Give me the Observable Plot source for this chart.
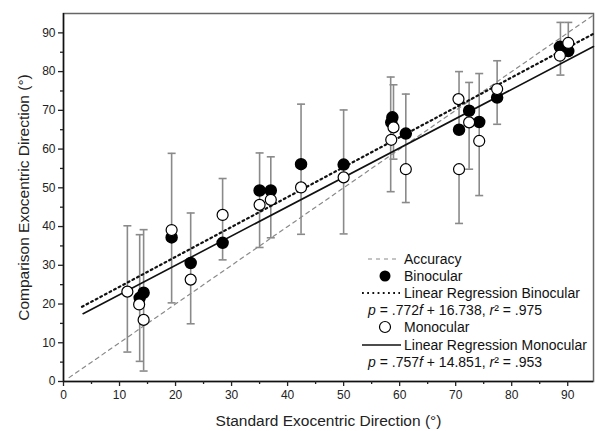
<!DOCTYPE html>
<html><head><meta charset="utf-8">
<script src="https://cdn.jsdelivr.net/npm/d3@7"></script>
<script src="https://cdn.jsdelivr.net/npm/@observablehq/plot@0.6"></script>
<style>
body{margin:0;background:#fff;font-family:"Liberation Sans",Arial,sans-serif;}
#wrap{width:595px;height:431px;}
</style></head><body><div id="wrap"></div>
<script>
// ---- data ----
const xTickValues = [0,10,20,30,40,50,60,70,80,90];
const yTickValues = [0,10,20,30,40,50,60,70,80,90];
const xMinorTicks = [5,15,25,35,45,55,65,75,85];
const yMinorTicks = [5,15,25,35,45,55,65,75,85];

const binocularX = [13.6,14.3,19.3,22.7,28.4,35.0,37.0,42.4,50.0,58.7,58.5,61.1,70.6,72.4,74.2,77.4,88.6,90.1];
const binocularY = [21.6,22.9,37.2,30.6,35.8,49.3,49.3,56.1,56.0,68.2,66.9,64.0,65.0,69.9,67.0,73.3,86.4,85.3];

const monocularX = [11.4,13.5,14.3,19.3,22.7,28.4,35.0,37.0,42.4,50.0,58.9,58.5,61.1,70.5,70.6,72.4,74.2,77.4,88.6,90.1];
const monocularY = [23.2,19.9,15.9,39.1,26.3,43.0,45.6,46.9,50.1,52.7,65.6,62.4,54.8,72.9,54.8,66.9,62.1,75.5,84.1,87.4];

const errorX  = [11.4,13.6,14.3,19.3,22.7,28.4,35.0,37.0,42.4,50.0,58.4,58.9,61.1,70.6,70.6,72.4,74.2,77.4,88.7,90.1];
const errorLo = [7.6,5.2,2.7,20.3,14.9,31.4,34.6,37.1,38.0,38.1,49.0,57.4,46.2,65.8,40.8,54.8,48.0,66.4,79.1,85.0];
const errorHi = [40.2,37.9,39.2,58.9,43.5,52.4,59.0,58.0,71.6,70.1,78.6,76.6,74.2,80.0,54.8,77.2,79.5,82.8,92.7,92.7];

// regression equations as printed: slope, intercept; drawn over this x extent
const regBinocular = {slope: 0.772, intercept: 16.738, r2: ".975", from: 3.3, to: 94.6};
const regMonocular = {slope: 0.757, intercept: 14.851, r2: ".953", from: 3.5, to: 94.6};
const accuracyExtent = [1, 94.6];

const legendLabels = ["Accuracy","Binocular","Linear Regression Binocular","Monocular","Linear Regression Monocular"];

// ---- tables ----
const bin = binocularX.map((x,i)=>({x, y: binocularY[i]}));
const mono = monocularX.map((x,i)=>({x, y: monocularY[i]}));
const errs = errorX.map((x,i)=>({x, lo: errorLo[i], hi: errorHi[i]}));
const regLine = r => [r.from, r.to].map(x => ({x, y: r.slope*x + r.intercept}));
const accuracy = accuracyExtent.map(v => ({x: v, y: v}));

const cap = {draw(ctx, size){ const w = Math.sqrt(size/Math.PI); ctx.moveTo(-w,0); ctx.lineTo(w,0); }};
const gray = "#8a8a8a";

const chart = Plot.plot({
  width: 595, height: 431,
  marginLeft: 63, marginRight: 2, marginTop: 13, marginBottom: 50,
  style: {fontFamily: "'Liberation Sans', Arial, sans-serif", fontSize: "12px", color: "#222", background: "#fff"},
  x: {domain: [0, 94.6]},
  y: {domain: [0, 95]},
  marks: [
    Plot.frame({stroke: "#666", strokeWidth: 1.5}),
    Plot.line(accuracy, {x: "x", y: "y", stroke: gray, strokeWidth: 1.2, strokeDasharray: "4,4"}),
    Plot.ruleX(errs, {x: "x", y1: "lo", y2: "hi", stroke: gray, strokeWidth: 1.6}),
    Plot.dot(errs, {x: "x", y: "hi", symbol: cap, r: 4, stroke: gray, strokeWidth: 1.6}),
    Plot.dot(errs, {x: "x", y: "lo", symbol: cap, r: 4, stroke: gray, strokeWidth: 1.6}),
    Plot.line(regLine(regBinocular), {x: "x", y: "y", stroke: "#111", strokeWidth: 2.2, strokeDasharray: "1.8,3.4"}),
    Plot.line(regLine(regMonocular), {x: "x", y: "y", stroke: "#111", strokeWidth: 1.6}),
    Plot.dot(bin, {x: "x", y: "y", r: 5.5, fill: "#000", stroke: "#000"}),
    Plot.dot(mono, {x: "x", y: "y", r: 5.5, fill: "#fff", stroke: "#000", strokeWidth: 1.2}),
    Plot.ruleX([0], {stroke: "#111", strokeWidth: 1.5}),
    Plot.ruleY([0], {stroke: "#111", strokeWidth: 1.5}),
    Plot.axisX(xTickValues, {tickSize: 5, tickPadding: 4, strokeWidth: 1.3, label: null, fontSize: 12}),
    Plot.axisX(xMinorTicks, {tickSize: 3, strokeWidth: 1.3, label: null, tickFormat: () => ""}),
    Plot.axisY(yTickValues, {tickSize: 5, tickPadding: 3, strokeWidth: 1.3, label: null, fontSize: 12}),
    Plot.axisY(yMinorTicks, {tickSize: 3, strokeWidth: 1.3, label: null, tickFormat: () => ""}),
    Plot.text(["Standard Exocentric Direction (°)"], {frameAnchor: "bottom", dy: 40, lineAnchor: "middle", textAnchor: "middle", fontSize: 15.5, fill: "#222"}),
    Plot.text(["Comparison Exocentric Direction (°)"], {frameAnchor: "left", dx: -39, rotate: -90, lineAnchor: "middle", textAnchor: "middle", fontSize: 15.5, fill: "#222"})
  ]
});
document.getElementById("wrap").appendChild(chart);

// ---- legend inside the plot area ----
const svg = d3.select(chart);
const lg = svg.append("g").attr("font-size", 14).attr("fill", "#111").attr("text-anchor", "start")
  .attr("font-family", "'Liberation Sans', Arial, sans-serif");
const rowsY = [259, 276, 293, 310, 327, 345, 362];
const tx = 404;
// Accuracy
lg.append("line").attr("x1",368).attr("x2",398).attr("y1",rowsY[0]).attr("y2",rowsY[0]).attr("stroke",gray).attr("stroke-width",1.2).attr("stroke-dasharray","4,4");
lg.append("text").attr("x",tx).attr("y",rowsY[0]).attr("dy","0.35em").text(legendLabels[0]);
// Binocular
lg.append("circle").attr("cx",385).attr("cy",rowsY[1]).attr("r",5.5).attr("fill","#000");
lg.append("text").attr("x",tx).attr("y",rowsY[1]).attr("dy","0.35em").text(legendLabels[1]);
// Regression binocular
lg.append("line").attr("x1",362).attr("x2",400).attr("y1",rowsY[2]).attr("y2",rowsY[2]).attr("stroke","#111").attr("stroke-width",2).attr("stroke-dasharray","1.8,3.4");
lg.append("text").attr("x",tx).attr("y",rowsY[2]).attr("dy","0.35em").text(legendLabels[2]);
function equation(y, r){
  const t = lg.append("text").attr("x",368).attr("y",y).attr("dy","0.35em");
  t.append("tspan").attr("font-style","italic").text("p");
  t.append("tspan").text(" = " + String(r.slope).replace(/^0/,""));
  t.append("tspan").attr("font-style","italic").text("f");
  t.append("tspan").text(" + " + r.intercept + ", ");
  t.append("tspan").attr("font-style","italic").text("r");
  t.append("tspan").text("² = " + r.r2);
}
equation(rowsY[3], regBinocular);
// Monocular
lg.append("circle").attr("cx",385).attr("cy",rowsY[4]).attr("r",5.5).attr("fill","#fff").attr("stroke","#000").attr("stroke-width",1.2);
lg.append("text").attr("x",tx).attr("y",rowsY[4]).attr("dy","0.35em").text(legendLabels[3]);
lg.append("line").attr("x1",362).attr("x2",401).attr("y1",rowsY[5]).attr("y2",rowsY[5]).attr("stroke","#111").attr("stroke-width",1.6);
lg.append("text").attr("x",tx).attr("y",rowsY[5]).attr("dy","0.35em").text(legendLabels[4]);
equation(rowsY[6], regMonocular);
</script>
</body></html>
